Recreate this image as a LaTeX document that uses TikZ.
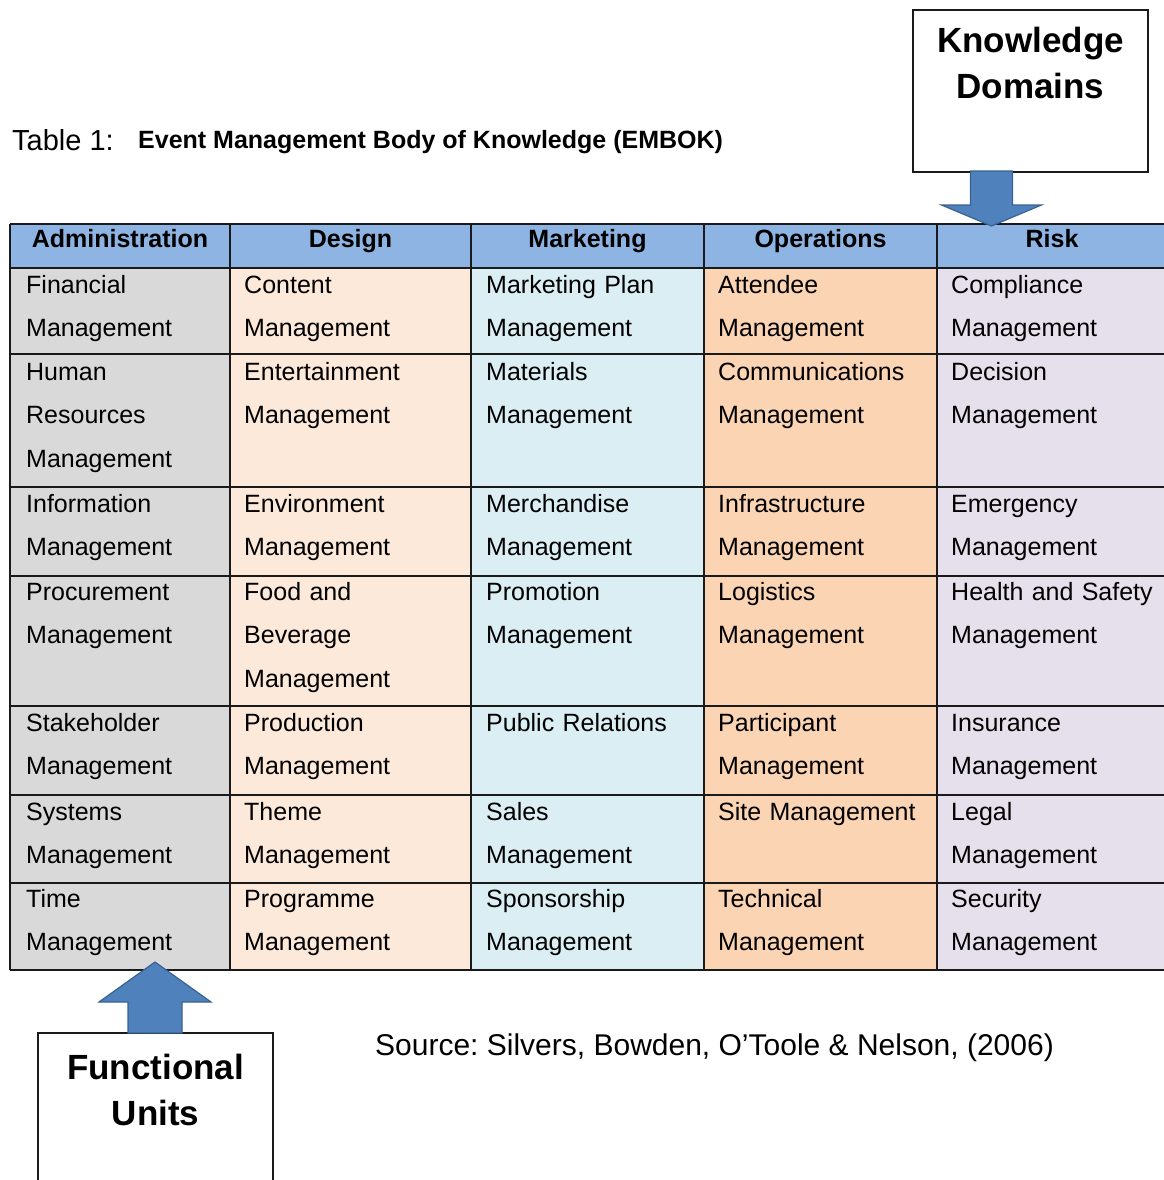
\documentclass[tikz,border=0pt]{standalone}
\usepackage{fontspec}
\setmainfont{Liberation Sans}
\usetikzlibrary{calc}
\definecolor{hdr}{HTML}{8DB4E2}
\definecolor{cadm}{HTML}{D9D9D9}
\definecolor{cdes}{HTML}{FDE9D9}
\definecolor{cmkt}{HTML}{DAEEF3}
\definecolor{cops}{HTML}{FBD4B4}
\definecolor{crisk}{HTML}{E5E0EC}
\definecolor{arrowblue}{HTML}{4F81BD}
\definecolor{arrowedge}{HTML}{3A6291}
\definecolor{gridc}{HTML}{1A1A1A}
\frenchspacing
\begin{document}
\begin{tikzpicture}[x=1pt,y=-1pt,
  cell/.style={font=\fontsize{25}{43.5}\selectfont, anchor=base west, inner sep=0pt, text width=230pt, align=left},
  head/.style={font=\bfseries\fontsize{25}{30}\selectfont, anchor=base, inner sep=0pt},
  labelbox/.style={draw=gridc, line width=1.3pt, fill=white},
  boxtext/.style={font=\bfseries\fontsize{35}{46}\selectfont, anchor=base, inner sep=0pt, align=center},
  blockarrow/.style={fill=arrowblue, draw=arrowedge, line width=1.2pt, line join=miter},
  gridline/.style={draw=gridc, line width=1.4pt}]
\useasboundingbox (0,0) rectangle (1163,1180);
\fill[white] (0,0) rectangle (1163,1180);

% title
\node[font=\fontsize{29}{30}\selectfont, anchor=base west, inner sep=0pt] (t1) at (12,150) {Table 1:};
\node[font=\bfseries\fontsize{25}{30}\selectfont, anchor=base west, inner sep=0pt] (t2) at (138,149) {Event Management Body of Knowledge (EMBOK)};

% column backgrounds
\fill[cadm]  (10,268) rectangle (230,970);
\fill[cdes]  (230,268) rectangle (471,970);
\fill[cmkt]  (471,268) rectangle (704,970);
\fill[cops]  (704,268) rectangle (937,970);
\fill[crisk] (937,268) rectangle (1170,970);
\fill[hdr]   (10,224) rectangle (1170,268);

% grid
\foreach \yy in {224,268,354,487,576,706,795,883,970}
  \draw[gridline] (10,\yy) -- (1170,\yy);
\foreach \xx in {10,230,471,704,937}
  \draw[gridline] (\xx,224) -- (\xx,970);

% headers
\node[head] (h1) at (120,247) {Administration};
\node[head] (h2) at (350.5,247) {Design};
\node[head] (h3) at (587.5,247) {Marketing};
\node[head] (h4) at (820.5,247) {Operations};
\node[head] (h5) at (1052,247) {Risk};

% Administration
\node[cell] (a1) at (26,293) {Financial\\Management};
\node[cell] (a2) at (26,380) {Human\\Resources\\Management};
\node[cell] (a3) at (26,512) {Information\\Management};
\node[cell] (a4) at (26,600) {Procurement\\Management};
\node[cell] (a5) at (26,731) {Stakeholder\\Management};
\node[cell] (a6) at (26,820) {Systems\\Management};
\node[cell] (a7) at (26,907) {Time\\Management};
% Design
\node[cell] (d1) at (244,293) {Content\\Management};
\node[cell] (d2) at (244,380) {Entertainment\\Management};
\node[cell] (d3) at (244,512) {Environment\\Management};
\node[cell] (d4) at (244,600) {Food and\\Beverage\\Management};
\node[cell] (d5) at (244,731) {Production\\Management};
\node[cell] (d6) at (244,820) {Theme\\Management};
\node[cell] (d7) at (244,907) {Programme\\Management};
% Marketing
\node[cell] (m1) at (486,293) {Marketing Plan\\Management};
\node[cell] (m2) at (486,380) {Materials\\Management};
\node[cell] (m3) at (486,512) {Merchandise\\Management};
\node[cell] (m4) at (486,600) {Promotion\\Management};
\node[cell] (m5) at (486,731) {Public Relations};
\node[cell] (m6) at (486,820) {Sales\\Management};
\node[cell] (m7) at (486,907) {Sponsorship\\Management};
% Operations
\node[cell] (o1) at (718,293) {Attendee\\Management};
\node[cell] (o2) at (718,380) {Communications\\Management};
\node[cell] (o3) at (718,512) {Infrastructure\\Management};
\node[cell] (o4) at (718,600) {Logistics\\Management};
\node[cell] (o5) at (718,731) {Participant\\Management};
\node[cell] (o6) at (718,820) {Site Management};
\node[cell] (o7) at (718,907) {Technical\\Management};
% Risk
\node[cell] (r1) at (951,293) {Compliance\\Management};
\node[cell] (r2) at (951,380) {Decision\\Management};
\node[cell] (r3) at (951,512) {Emergency\\Management};
\node[cell] (r4) at (951,600) {Health and Safety\\Management};
\node[cell] (r5) at (951,731) {Insurance\\Management};
\node[cell] (r6) at (951,820) {Legal\\Management};
\node[cell] (r7) at (951,907) {Security\\Management};

% Knowledge Domains box and arrow
\draw[labelbox] (913,10) rectangle (1148,172);
\node[boxtext] (kd) at (1030.5,99) {Knowledge\\Domains};
\coordinate (kdtop) at (991.5,172);
\coordinate (kdtip) at (991.5,226);
\draw[blockarrow] ($(kdtop)+(-21,-1)$) -- ($(kdtop)+(21,-1)$) -- ($(kdtop)+(21,33)$)
  -- ($(kdtop)+(50,33)$) -- (kdtip) -- ($(kdtop)+(-50,33)$) -- ($(kdtop)+(-21,33)$) -- cycle;

% Functional Units box and arrow
\draw[labelbox] (38,1190) -- (38,1033) -- (273,1033) -- (273,1190);
\node[boxtext] (fu) at (155.5,1125) {Functional\\Units};
\coordinate (fubot) at (155,1033);
\coordinate (futip) at (155,962);
\draw[blockarrow] ($(fubot)+(-27,0)$) -- ($(fubot)+(27,0)$) -- ($(fubot)+(27,-31)$)
  -- ($(fubot)+(56,-31)$) -- (futip) -- ($(fubot)+(-56,-31)$) -- ($(fubot)+(-27,-31)$) -- cycle;

% source
\node[font=\fontsize{30}{34}\selectfont, anchor=base west, inner sep=0pt] (src) at (375,1055) {Source: Silvers, Bowden, O’Toole \& Nelson, (2006)};
\end{tikzpicture}
\end{document}
